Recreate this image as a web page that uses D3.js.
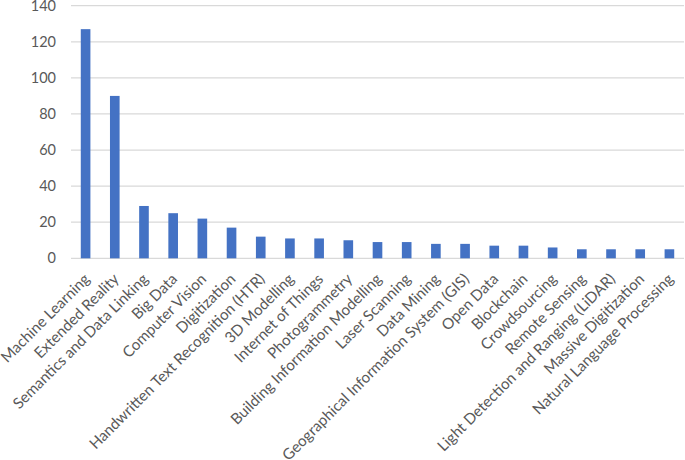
<!DOCTYPE html>
<html>
<head>
<meta charset="utf-8">
<script src="https://cdn.jsdelivr.net/npm/d3@7"></script>
<style>
  body { margin: 0; background: #fff; }
  text { font-family: Lato, "Open Sans", sans-serif; fill: #595959; }
</style>
</head>
<body>
<svg width="685" height="460"></svg>
<script>
// data
var topics = ['Machine Learning', 'Extended Reality', 'Semantics and Data Linking', 'Big Data',
  'Computer Vision', 'Digitization', 'Handwritten Text Recognition (HTR)', '3D Modelling',
  'Internet of Things', 'Photogrammetry', 'Building Information Modelling', 'Laser Scanning',
  'Data Mining', 'Geographical Information System (GIS)', 'Open Data', 'Blockchain',
  'Crowdsourcing', 'Remote Sensing', 'Light Detection and Ranging (LiDAR)',
  'Massive Digitization', 'Natural Language Processing'];
var counts = [127, 90, 29, 25, 22, 17, 12, 11, 11, 10, 9, 9, 8, 8, 7, 7, 6, 5, 5, 5, 5];
var yTicks = [0, 20, 40, 60, 80, 100, 120, 140];

var svg = d3.select('svg');
var plot = {l: 71, r: 684, t: 5.7, b: 258.3};

var xScale = d3.scaleBand().domain(topics).range([plot.l, plot.r]).paddingInner(0.67).paddingOuter(0.335);
var yScale = d3.scaleLinear().domain([0, 140]).range([plot.b, plot.t]);

// gridlines
svg.append('g')
    .selectAll('line')
    .data(yTicks)
    .enter()
    .append('line')
    .attr('x1', plot.l)
    .attr('x2', plot.r)
    .attr('y1', function(d) { return yScale(d); })
    .attr('y2', function(d) { return yScale(d); })
    .attr('stroke', '#d9d9d9')
    .attr('stroke-width', 1.3);

// y axis labels
var yAxis = svg.append('g')
    .attr('transform', 'translate(' + [plot.l - 15, 0] + ')')
    .call(d3.axisLeft(yScale).tickValues(yTicks).tickSize(0).tickPadding(0));
yAxis.select('.domain').remove();
yAxis.selectAll('text')
    .style('font-size', '14.5px')
    .style('font-family', 'Lato')
    .attr('fill', '#595959');

// bars
svg.append('g')
    .selectAll('rect')
    .data(counts)
    .enter()
    .append('rect')
    .attr('x', function(d, i) { return xScale(topics[i]); })
    .attr('width', xScale.bandwidth())
    .attr('y', function(d) { return yScale(d); })
    .attr('height', function(d) { return plot.b - yScale(d); })
    .attr('fill', '#4472c4');

// x labels, rotated
svg.append('g')
    .selectAll('text')
    .data(topics)
    .enter()
    .append('text')
    .attr('transform', function(d) {
        return 'translate(' + [xScale(d) + xScale.bandwidth() / 2 + 5, 280] + ')rotate(-45)';
    })
    .attr('text-anchor', 'end')
    .style('font-size', '15.2px')
    .text(function(d) { return d; });
</script>
</body>
</html>
